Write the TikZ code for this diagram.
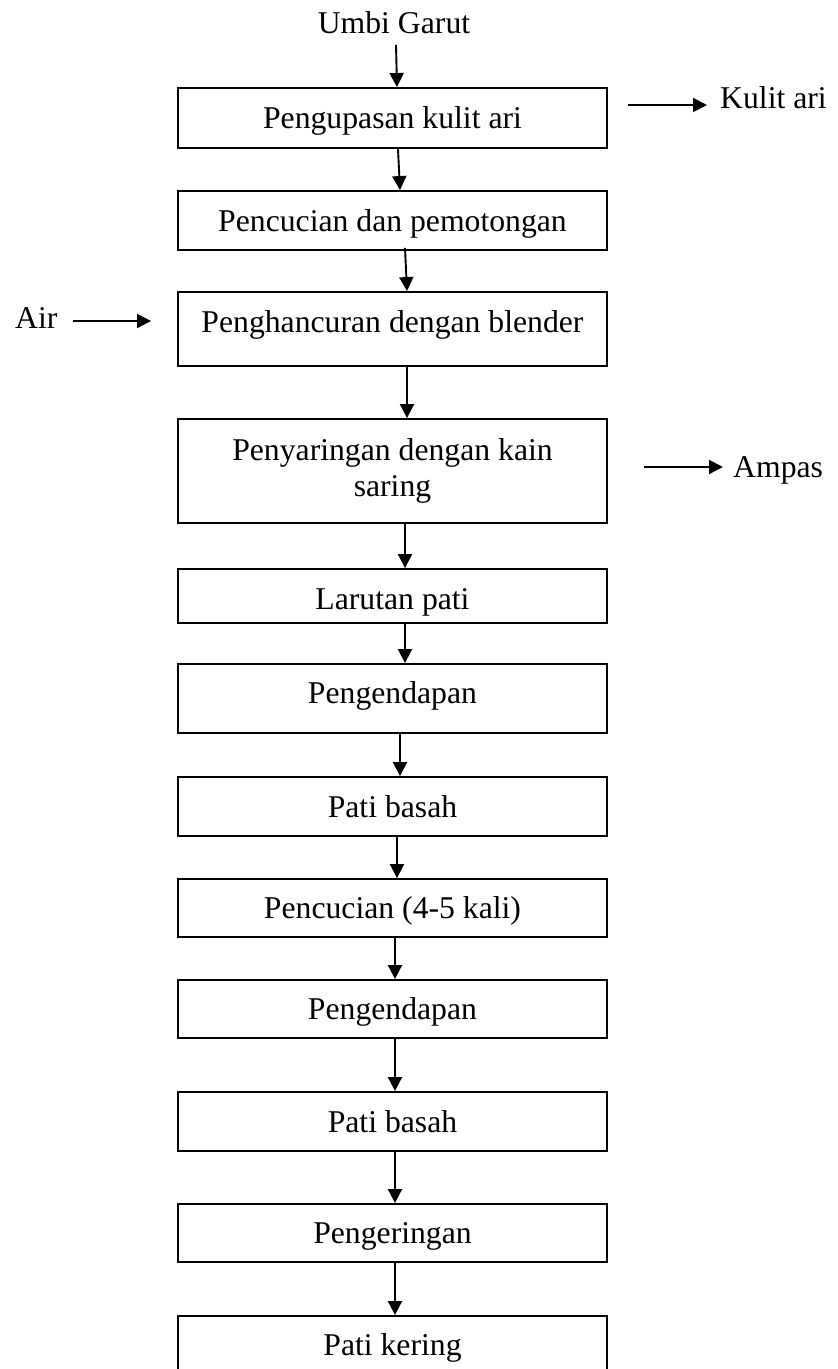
\documentclass[tikz,border=0pt]{standalone}
\usepackage{fontspec}
\setmainfont{Liberation Serif}
\usetikzlibrary{arrows.meta}
\begin{document}
\begin{tikzpicture}[x=1pt,y=-1pt,
  font=\fontsize{31.7}{36}\selectfont,
  box/.style={draw, line width=1.9pt, rectangle, minimum width=429pt, inner sep=0pt, text height=21pt, text depth=0pt},
  lbl/.style={inner sep=0pt},
  arr/.style={line width=1.9pt, -{Triangle[length=14pt,width=14pt]}}]
\useasboundingbox (0,0) rectangle (838,1369);
\node[lbl, anchor=base] (umbi) at (394,33) {Umbi Garut};
\node[box, minimum height=60pt] (b1) at (392.5,118) {Pengupasan kulit ari};
\node[box, minimum height=59pt] (b2) at (392.5,220.5) {Pencucian dan pemotongan};
\node[box, minimum height=74pt, text height=6pt] (b3) at (392.5,329) {Penghancuran dengan blender};
\node[box, minimum height=104pt, text height=, text depth=, align=center] (b4) at (392.5,471) {Penyaringan dengan kain\\saring};
\node[box, minimum height=54pt, text height=26pt] (b5) at (392.5,596) {Larutan pati};
\node[box, minimum height=69pt, text height=9pt] (b6) at (392.5,698.5) {Pengendapan};
\node[box, minimum height=59pt] (b7) at (392.5,806.5) {Pati basah};
\node[box, minimum height=58pt] (b8) at (392.5,908) {Pencucian (4-5 kali)};
\node[box, minimum height=58pt] (b9) at (392.5,1009) {Pengendapan};
\node[box, minimum height=59pt] (b10) at (392.5,1121.5) {Pati basah};
\node[box, minimum height=58pt] (b11) at (392.5,1233) {Pengeringan};
\node[box, minimum height=58pt] (b12) at (392.5,1345) {Pati kering};
\node[lbl, anchor=base west] (kulit) at (720,108) {Kulit ari};
\node[lbl, anchor=base west] (air) at (15,328) {Air};
\node[lbl, anchor=base west] (ampas) at (733,477) {Ampas};
\draw[arr] ([xshift=2pt,yshift=-12pt]umbi.base) -- ([xshift=4.5pt]b1.north);
\draw[arr] ([xshift=5.5pt]b1.south) -- ([xshift=7.5pt]b2.north);
\draw[arr] ([xshift=12.5pt,yshift=3pt]b2.south) -- ([xshift=14.5pt]b3.north);
\draw[arr] ([xshift=14.5pt]b3.south) -- ([xshift=14.5pt]b4.north);
\draw[arr] ([xshift=12.5pt]b4.south) -- ([xshift=12.5pt]b5.north);
\draw[arr] ([xshift=12.5pt]b5.south) -- ([xshift=12.5pt]b6.north);
\draw[arr] ([xshift=7.5pt]b6.south) -- ([xshift=7.5pt]b7.north);
\draw[arr] ([xshift=4.5pt]b7.south) -- ([xshift=4.5pt]b8.north);
\draw[arr] ([xshift=2.5pt]b8.south) -- ([xshift=2.5pt]b9.north);
\draw[arr] ([xshift=2.5pt]b9.south) -- ([xshift=2.5pt]b10.north);
\draw[arr] ([xshift=2.5pt]b10.south) -- ([xshift=2.5pt]b11.north);
\draw[arr] ([xshift=2.5pt]b11.south) -- ([xshift=2.5pt]b12.north);
\draw[arr] ([xshift=20pt,yshift=13pt]b1.east) -- ([xshift=-13pt,yshift=3pt]kulit.base west);
\draw[arr] ([xshift=15pt,yshift=7pt]air.base east) -- ([xshift=-26pt,yshift=8pt]b3.west);
\draw[arr] ([xshift=36pt,yshift=4pt]b4.east) -- ([xshift=-10pt,yshift=10pt]ampas.base west);
\end{tikzpicture}
\end{document}
